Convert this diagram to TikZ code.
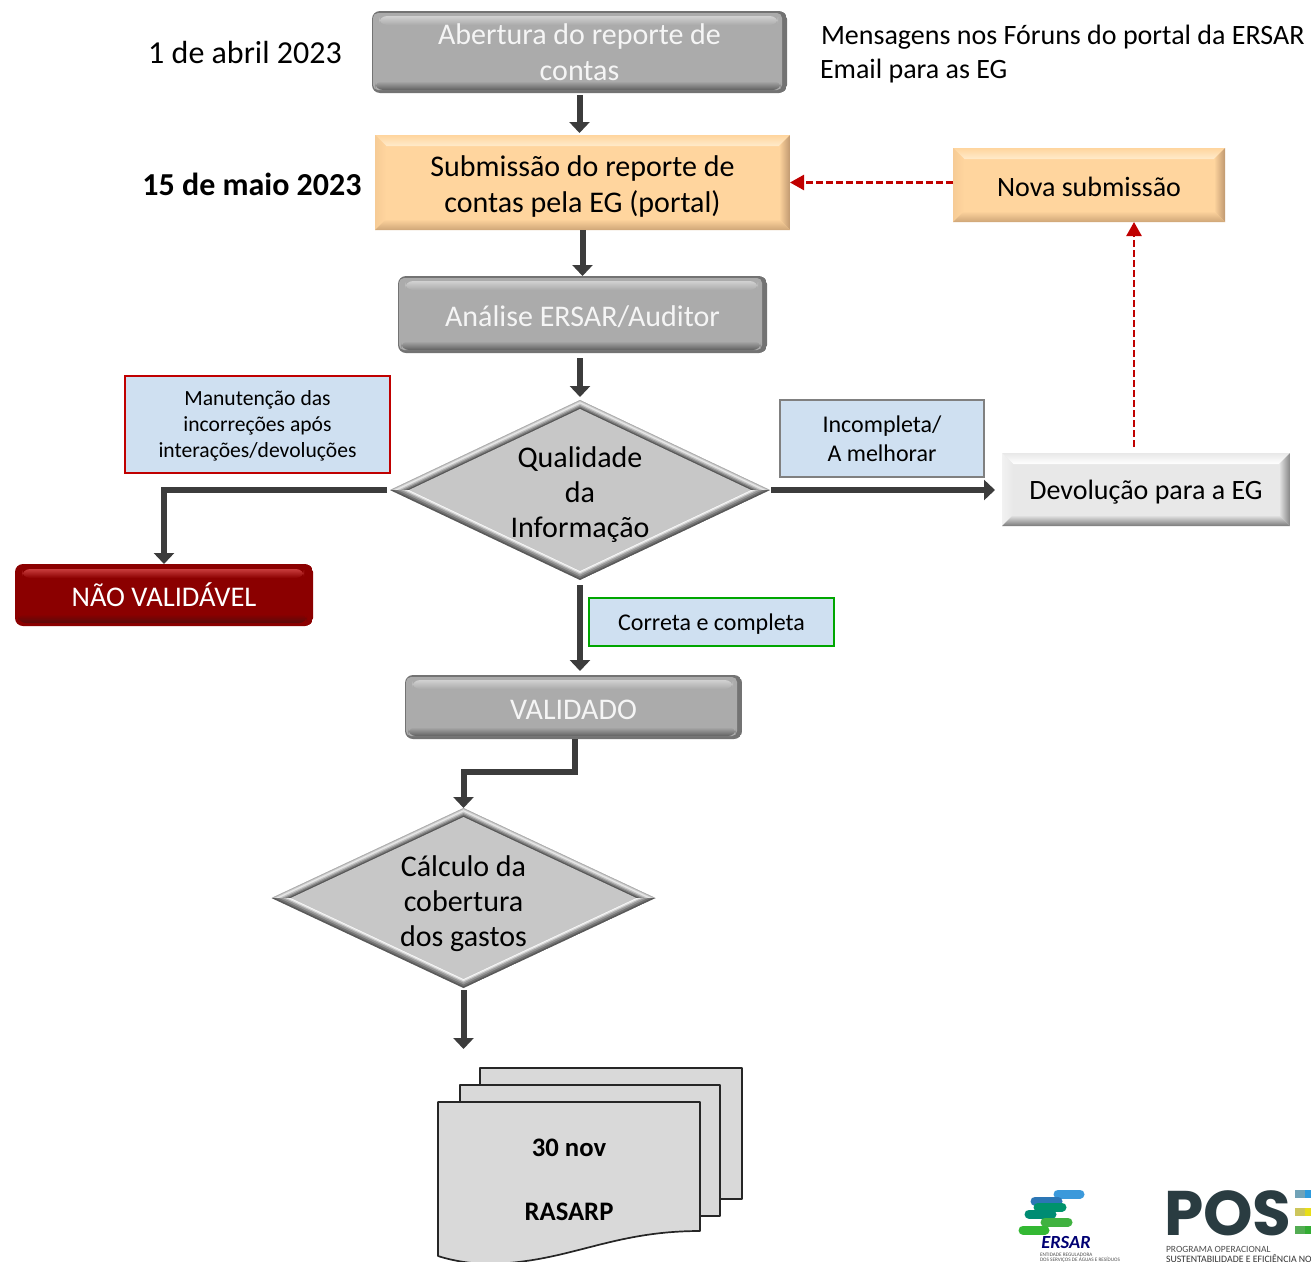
\documentclass[tikz,border=0pt]{standalone}
\usepackage{fontspec}
\setmainfont{Carlito}
\newfontfamily\posfont{Poppins}
\usetikzlibrary{positioning,calc,shapes.geometric,arrows.meta}

\definecolor{setacinza}{HTML}{3C3C3C}
\definecolor{setavermelha}{HTML}{C00000}
\definecolor{notaazul}{HTML}{CFE0F1}
\definecolor{posescuro}{HTML}{2A3C41}
\definecolor{laranja}{HTML}{FFD59E}
\definecolor{laranjaclaro}{HTML}{FFEBCB}
\definecolor{laranjaesq}{HTML}{F6CB95}
\definecolor{laranjadir}{HTML}{BF9870}
\definecolor{laranjabaixo}{HTML}{CFA678}
\definecolor{vermelhoescuro}{HTML}{8B0000}
\definecolor{vermelhoclaro}{HTML}{C83C3C}
\definecolor{vermelhobaixo}{HTML}{5A0A0A}

\newcommand{\pb}{path picture bounding box}
% rounded box: main, edge, highlight, lower band
\newcommand{\boxround}[4]{
  \fill[#2] (\pb.south west) rectangle (\pb.north east);
  \fill[#1, rounded corners=5] ($(\pb.north west)+(1,2)$) rectangle ($(\pb.south east)+(-5,-3)$);
  \shade[top color=#3, bottom color=#1] ($(\pb.north west)+(7,5)$) rectangle ($(\pb.north east)+(-9,14)$);
  \shade[top color=#1, bottom color=#4] ($(\pb.south west)+(3,-12)$) rectangle ($(\pb.south east)+(-6,-3)$);
}
% bevelled box: main, top, left, right, bottom
\newcommand{\boxbevel}[5]{
  \coordinate (nw) at ($(\pb.north west)+(11,11)$);
  \coordinate (ne) at ($(\pb.north east)+(-11,11)$);
  \coordinate (sw) at ($(\pb.south west)+(11,-11)$);
  \coordinate (se) at ($(\pb.south east)+(-11,-11)$);
  \fill[#1] (\pb.south west) rectangle (\pb.north east);
  \shade[top color=#1, bottom color=#2] (\pb.north west) -- (\pb.north east) -- (ne) -- (nw) -- cycle;
  \shade[left color=#3, right color=#1] (\pb.north west) -- (nw) -- (sw) -- (\pb.south west) -- cycle;
  \shade[left color=#1, right color=#4] (\pb.north east) -- (ne) -- (se) -- (\pb.south east) -- cycle;
  \shade[top color=#1, bottom color=#5] (\pb.south west) -- (sw) -- (se) -- (\pb.south east) -- cycle;
}
\newcommand{\bevelrombo}{
  \fill[black!22] (\pb.south west) rectangle (\pb.north east);
  \begin{scope}
    \clip (\pb.west) rectangle (\pb.north east);
    \foreach \frac/\col in {0/black!32, .012/black!18, .024/black!9, .04/black!22, .055/black!38, .07/black!52, .085/black!66, .1/black!22} {
      \fill[\col] ($(\pb.north)!\frac!(\pb.center)$) -- ($(\pb.east)!\frac!(\pb.center)$) -- ($(\pb.west)!\frac!(\pb.center)$) -- cycle;
    }
  \end{scope}
  \begin{scope}
    \clip (\pb.west) rectangle (\pb.south east);
    \foreach \frac/\col in {0/black!65, .02/black!55, .04/black!42, .06/black!28, .075/black!10, .09/black!2, .1/black!22} {
      \fill[\col] ($(\pb.south)!\frac!(\pb.center)$) -- ($(\pb.east)!\frac!(\pb.center)$) -- ($(\pb.west)!\frac!(\pb.center)$) -- cycle;
    }
  \end{scope}
}

\begin{document}
\begin{tikzpicture}[x = 1pt, y = -1pt,
    every node/.style = { align = center, inner sep = 0pt, outer sep = 0pt },
    desce/.style = { execute at begin node = {\rule{0pt}{#1}\ignorespaces} },
    textogrande/.style = { font = \fontsize{30}{36}\selectfont },
    textomedio/.style = { font = \fontsize{28}{35}\selectfont },
    caixacinza/.style = { textogrande, desce = 26pt, text = black!4, rounded corners = 8,
      path picture = { \boxround{black!33}{black!55}{black!18}{black!62} } },
    caixalaranja/.style = { textogrande, path picture = { \boxbevel{laranja}{laranjaclaro}{laranjaesq}{laranjadir}{laranjabaixo} } },
    caixaclara/.style = { textomedio, desce = 25pt, path picture = { \boxbevel{black!9}{white}{black!5}{black!48}{black!52} } },
    caixavermelha/.style = { font = \fontsize{28.5}{34}\selectfont, text = white, rounded corners = 8,
      path picture = { \boxround{vermelhoescuro}{vermelhoescuro}{vermelhoclaro}{vermelhobaixo} } },
    rombo/.style = { font = \fontsize{30}{35}\selectfont, shape = diamond, shape aspect = 2.11,
      path picture = { \bevelrombo } },
    nota/.style = { draw, line width = 1.5pt, fill = notaazul, font = \fontsize{24}{29}\selectfont },
    seta/.style = { draw = setacinza, line width = 6pt, -{Triangle[width = 20pt, length = 11pt]} },
    setaverm/.style = { draw = setavermelha, line width = 2.4pt, dash pattern = on 7pt off 3pt, -{Triangle[width = 15pt, length = 14pt]} },
    folha/.style = { draw = black!85, line width = 1.7pt, fill = black!15, line join = round },
    barra/.style = { line width = 9pt, line cap = round }
  ]
  \useasboundingbox (0,0) rectangle (1311,1261);

  \node (abertura) [caixacinza, minimum width = 415pt, minimum height = 82pt] at (579.5,52) {Abertura do reporte de\\contas};
  \node (submissao) [caixalaranja, desce = 64pt, below = 42pt of abertura, xshift = 3pt, minimum width = 415pt, minimum height = 95pt] {Submissão do reporte de\\contas pela EG (portal)};
  \node (analise) [caixacinza, below = 46pt of submissao, minimum width = 369pt, minimum height = 77pt] {Análise ERSAR/Auditor};
  \node (qualidade) [rombo, desce = 100pt, below = 47pt of analise, xshift = -2.5pt, minimum width = 380pt, minimum height = 180pt] {Qualidade\\da\\Informação};
  \node (validado) [caixacinza, below = 95pt of qualidade, xshift = -6.5pt, minimum width = 337pt, minimum height = 64pt] {VALIDADO};
  \node (calculo) [rombo, desce = 102pt, below = 69pt of validado, xshift = -110pt, minimum width = 384pt, minimum height = 180pt] {Cálculo da\\cobertura\\dos gastos};

  \node (naovalidavel) [caixavermelha, minimum width = 298pt, minimum height = 62pt] at (164,595) {NÃO VALIDÁVEL};
  \node (nova) [caixalaranja, textomedio, desce = 23pt, minimum width = 272pt, minimum height = 74pt] at (1089,185) {Nova submissão};
  \node (devolucao) [caixaclara, minimum width = 288pt, minimum height = 73pt] at (1146,489.5) {Devolução para a EG};

  \node (manutencao) [nota, draw = setavermelha, font = \fontsize{21.6}{26}\selectfont, desce = 70pt, minimum width = 265pt, minimum height = 97pt] at (257.5,424.5) {Manutenção das\\incorreções após\\interações/devoluções};
  \node (incompleta) [nota, draw = black!50, minimum width = 204pt, minimum height = 77pt] at (882,438.5) {Incompleta/\\A melhorar};
  \node (correta) [nota, draw = green!65!black, desce = 21pt, minimum width = 245pt, minimum height = 48pt] at (711.5,622) {Correta e completa};

  \node (data1) [font = \fontsize{32}{36}\selectfont] at (245,53) {1 de abril 2023};
  \node (data2) [font = \fontsize{32}{36}\selectfont\bfseries] at (252,184) {15 de maio 2023};
  \node (mensagens) [textomedio, anchor = west] at (821,37) {Mensagens nos Fóruns do portal da ERSAR};
  \node (email) [textomedio, anchor = west] at (820,71) {Email para as EG};

  % pilha de folhas
  \draw [folha] (480,1068) -- (742,1068) -- (742,1199) -- (700,1199) -- (480,1199) -- cycle;
  \draw [folha] (460,1085) -- (720,1085) -- (720,1216) -- (680,1216) -- (460,1216) -- cycle;
  \draw [folha] (438,1102) -- (700,1102) -- (700,1231) .. controls (610,1231) and (570,1262) .. (490,1264) .. controls (470,1264) and (450,1260) .. (438,1256) -- cycle;
  \node (data3) [font = \fontsize{26.7}{30}\selectfont\bfseries] at (569,1148) {30 nov};
  \node (rasarp) [font = \fontsize{26.7}{30}\selectfont\bfseries] at (569,1212) {RASARP};
  \coordinate (fimseta) at (463.5,1049);

  \draw [seta, shorten < = 2pt, shorten > = 2pt] (abertura.south) -- (abertura.south |- submissao.north);
  \draw [seta] (submissao.south) -- (analise.north);
  \draw [seta, shorten < = 5pt, shorten > = 3pt] (qualidade.north |- analise.south) -- (qualidade.north);
  \draw [seta, shorten < = 3pt] (qualidade.west) -| (naovalidavel.north);
  \draw [seta, shorten < = 1pt, shorten > = 7pt] (qualidade.east) -- (qualidade.east -| devolucao.west);
  \draw [seta, shorten < = 5pt, shorten > = 4pt] (qualidade.south) -- (qualidade.south |- validado.north);
  \draw [seta] (validado.south) ++(1.5,0) -- ++(0,33) -| (calculo.north);
  \draw [seta, shorten < = 2pt] (calculo.south) -- (fimseta);
  \draw [setaverm] (submissao.east -| nova.west) -- (submissao.east);
  \draw [setaverm, shorten < = 6pt] (devolucao.north -| 1134,0) -- (nova.south -| 1134,0);

  % logotipos
  \foreach \xa/\xb/\ypos/\col in {1058/1080/1194/cyan!70!blue!80!white, 1035/1058/1201/cyan!60!blue!85!black, 1038/1062/1207/teal!85!green, 1029/1052/1214/teal!90!green, 1045/1068/1222/green!60!black!75!white, 1023/1045/1230/green!65!black!80!white} {
    \draw [barra, \col] (\xa,\ypos) -- (\xb,\ypos);
  }
  \node (ersar) [font = \fontsize{18.5}{18}\selectfont\bfseries\itshape, text = blue!45!black] at (1066,1242) {ERSAR};
  \node (entidade) [font = \fontsize{5.2}{5.5}\selectfont, text = black!70, anchor = west] at (1040,1255) {ENTIDADE REGULADORA};
  \node (servicos) [font = \fontsize{5.2}{5.5}\selectfont, text = black!70, anchor = west] at (1040,1260) {DOS SERVIÇOS DE ÁGUAS E RESÍDUOS};
  \node (pos) [font = \fontsize{63}{64}\posfont\bfseries, text = posescuro, anchor = base west] at (1164,1235) {POS};
  \foreach \ypos/\cola/\colb in {1190/cyan!40!gray/cyan!75!blue!85!white, 1208/yellow!55!gray/yellow!90!black, 1226/green!35!gray/green!60!black!80!white} {
    \fill [\cola] (1295,\ypos) rectangle (1305,\ypos+8);
    \fill [\colb] (1305,\ypos) rectangle (1311,\ypos+8);
  }
  \node (programa) [font = \fontsize{9.5}{9.5}\selectfont, text = black!70, anchor = west] at (1166,1249) {PROGRAMA OPERACIONAL};
  \node (sustent) [font = \fontsize{9.8}{10}\selectfont, text = black!80, anchor = west] at (1166,1259) {SUSTENTABILIDADE E EFICIÊNCIA NO};
\end{tikzpicture}
\end{document}
